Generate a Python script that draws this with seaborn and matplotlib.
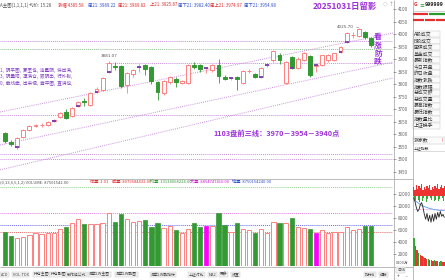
import numpy as np
import pandas as pd
import matplotlib
matplotlib.use("Agg")
import matplotlib.pyplot as plt
import seaborn as sns
from matplotlib.patches import Rectangle

sns.set_style("white")
plt.rcParams['font.family'] = ['Noto Sans CJK SC', 'DejaVu Sans']

# ---------------- data ----------------
open_ = [3605, 3568, 3549, 3589, 3617, 3635, 3636, 3637, 3653, 3669,
         3689, 3673, 3713, 3731, 3717, 3769, 3777, 3849, 3874, 3873,
         3797, 3841, 3868, 3877, 3869, 3808, 3765, 3808, 3821, 3806,
         3806, 3876, 3876, 3864, 3857, 3876, 3829, 3825, 3829, 3805,
         3851, 3841, 3829, 3876, 3897, 3917, 3805, 3909, 3865, 3897,
         3913, 3874, 3877, 3897, 3897, 3928, 3968, 3995, 3992, 4008,
         3984]
close_ = [3573, 3562, 3585, 3617, 3633, 3639, 3637, 3649, 3657, 3685,
          3665, 3705, 3729, 3727, 3765, 3781, 3825, 3885, 3870, 3793,
          3845, 3857, 3869, 3861, 3813, 3768, 3813, 3828, 3808, 3812,
          3877, 3868, 3860, 3865, 3876, 3833, 3821, 3826, 3821, 3853,
          3853, 3829, 3865, 3878, 3932, 3897, 3889, 3865, 3901, 3925,
          3837, 3877, 3916, 3916, 3924, 3948, 4004, 3997, 4020, 3988,
          3956]
high_ = [3610, 3578, 3588, 3620, 3636, 3642, 3645, 3652, 3662, 3688,
         3702, 3710, 3732, 3745, 3768, 3790, 3828, 3891, 3888, 3876,
         3850, 3860, 3880, 3880, 3872, 3812, 3815, 3832, 3830, 3818,
         3880, 3890, 3880, 3870, 3880, 3900, 3835, 3830, 3832, 3856,
         3862, 3845, 3868, 3885, 3936, 3925, 3892, 3912, 3910, 3930,
         3918, 3880, 3918, 3920, 3926, 3952, 4008, 4010, 4025.7, 4012,
         3990]
low_ = [3565, 3555, 3541, 3585, 3612, 3630, 3628, 3633, 3648, 3664,
        3660, 3668, 3708, 3713, 3712, 3765, 3772, 3845, 3858, 3785,
        3765, 3830, 3848, 3835, 3800, 3737, 3757, 3800, 3790, 3800,
        3800, 3860, 3850, 3845, 3850, 3805, 3815, 3815, 3777, 3800,
        3845, 3825, 3825, 3870, 3890, 3880, 3800, 3860, 3860, 3893,
        3830, 3850, 3872, 3890, 3892, 3925, 3965, 3985, 3988, 3980,
        3950]
volume = [5700, 5000, 4650, 4850, 5150, 5500, 5350, 5500, 5500, 6150,
          6500, 7150, 7850, 7000, 7000, 7000, 7150, 8850, 7350, 8650,
          7850, 7350, 7500, 7650, 6500, 7150, 6350, 6650, 6000, 5500,
          6150, 7150, 6500, 6650, 6650, 8850, 6850, 5650, 7150, 6150,
          6000, 5500, 6150, 5500, 7350, 7150, 7150, 8000, 6500, 6350,
          6150, 5500, 6000, 5500, 5650, 5650, 6500, 6000, 6150, 6650,
          6650]
magenta_vol_idx = [33, 51]
purple_idx = [2, 8, 12, 15, 17, 22, 33, 37, 42, 43, 47, 51, 55, 56]
purple_price = [3549, 3655, 3713, 3769, 3849, 3868, 3864, 3825, 3829, 3877, 3865, 3875, 3928, 3968]

price_ticks = [4100, 4050, 4000, 3950, 3900, 3850, 3800, 3750, 3700, 3650, 3600, 3550, 3500, 3450]
vol_ticks = [12000, 10000, 8000, 6000, 4000, 2000]

level_lines = [3972, 3940, 3884, 3677, 3521, 3501]
level_colors = ['#c98fdc', '#8fbf8f', '#c98fdc', '#c98fdc', '#c98fdc', '#c98fdc']
level_start = [-0.8, -0.8, 16.4, -0.8, -0.8, -0.8]
trend_x0 = [-0.82, -0.82, -0.82]
trend_y0 = [3689, 3557, 3458]
trend_x1 = [63.6, 63.6, 63.6]
trend_y1 = [4004, 3888, 3825]
vol_levels = [13170, 8830, 6830, 5670]
vol_level_colors = ['#8fcf8f', '#e07ae0', '#6a6af0', '#e06a6a']

header_texts = ["A主图(1,1,1,1) 均价: 15.28", "涨幅 4385.58", "周21: 3989.22", "周21: 3989.82",
                "上21: 3825.87", "周下21: 3982.40", "周上21: 3974.97", "周下21: 3954.98"]
header_x = [0, 58, 88, 118, 150, 178, 210, 244]
header_colors = ['#555555', '#e03030', '#3050d0', '#e03030', '#e03030', '#3050d0', '#e03030', '#3050d0']

vol_header = ["(0,13,6,6,1,2) VOLUME: 87501542.00", "倍量: 1.01", "成量: 8079684432.00",
              "均量: 13134068224.00", "大量: 8854747416.00", "地量: 8750154240.00"]
vol_header_x = [0, 90, 112, 150, 190, 232]
vol_header_colors = ['#555555', '#e03030', '#e03030', '#3a9a3a', '#d020d0', '#3050d0']

left_block = ["1,  阴平图,  夏至也,  连星阴,  快出满,",
              "3,  阴量阳,  漂满仓,  跟阴出,  行外射,",
              "0,  截线牵,  出来视,  竟平图,  直满也,"]

side_labels = ["A股成交", "B股成交", "国债成交", "基金成交", "最新指数", "今日开盘", "昨日收盘",
               "指数涨跌", "指数振幅", "总成交额", "总成交量", "最高指数", "最低指数", "指数量比", "上证换手"]

tabs = ["ACD", "VOL-TDX", "持仓主图", "持仓副图", "制作组公式", "潜学LW主图", "潜学LW副图",
        "潜学LW副指标", "上证对比", "MA2", "更多", "设置", "指标A", "模板"]
tabs_x = [0, 12, 33, 50, 66, 88, 115, 150, 188, 208, 219, 231, 364, 379]

mini_line = [3960, 3956, 3950, 3946, 3948, 3953, 3955, 3950, 3943, 3938, 3944, 3936,
             3942, 3935, 3943, 3936, 3944, 3938, 3945, 3940, 3946, 3941, 3943, 3940]
mini_avg = [3958, 3957, 3956, 3955, 3954, 3953, 3952, 3951.5, 3951, 3950.5, 3950, 3949.5,
            3949, 3948.7, 3948.4, 3948, 3947.8, 3947.6, 3947.4, 3947.2, 3947, 3947, 3947, 3947]
mini_up = [9, 6, 11, 7, 10, 8, 12, 6, 9, 7, 10, 8, 11, 6, 9, 7, 10, 8, 12, 7, 9, 11, 8, 10]
mini_dn = [3, 5, 2, 4, 6, 3, 5, 2, 4, 6, 3, 5, 2, 4, 3, 5, 4, 2, 5, 3, 4, 2, 5, 3]
mini_vol = [28, 20, 16, 13, 11, 10, 9, 8, 7, 7, 6, 6, 5, 6, 5, 5, 4, 5, 4, 4]
mini_vol_green = [0, 3, 6, 9, 13, 17]

# ---------------- layout helpers ----------------
W, H = 445, 280
fig = plt.figure(figsize=(W / 100, H / 100), dpi=100)
fig.patch.set_facecolor('white')


def R(x0, y0, x1, y1):
    return [x0 / W, 1 - y1 / H, (x1 - x0) / W, (y1 - y0) / H]


def T(x, y, s, **kw):
    kw.setdefault('va', 'center')
    kw.setdefault('ha', 'left')
    fig.text(x / W, 1 - y / H, s, **kw)


PINK = '#ff8080'
GREEN = '#339933'
PURPLE = '#7a3aa8'
VIOLET = '#9b30d9'
n = len(open_)
XL = (-0.82, 63.6)

# ---------------- main price axes ----------------
ax = fig.add_axes(R(0, 0, 393, 178))
for lv, c, st in zip(level_lines, level_colors, level_start):
    ax.hlines(lv, st, XL[1], colors=c, lw=0.7, linestyles=(0, (1, 1)), zorder=1)

trend_df = pd.DataFrame({
    'x': trend_x0 + trend_x1,
    'y': trend_y0 + trend_y1,
    'g': [0, 1, 2, 0, 1, 2]})
sns.lineplot(data=trend_df, x='x', y='y', units='g', estimator=None, ax=ax,
             color='#c98fdc', lw=0.7, linestyle=(0, (1, 1.2)), zorder=1)
ax.set_xlabel('')
ax.set_ylabel('')

bw = 0.64
for i in range(n):
    o, h, l, c = open_[i], high_[i], low_[i], close_[i]
    up = c >= o
    col = PINK if up else GREEN
    ax.vlines(i, l, h, colors=col, lw=0.6, zorder=2)
    b = min(o, c)
    hh = max(abs(c - o), 1.2)
    ax.add_patch(Rectangle((i - bw / 2, b), bw, hh,
                           facecolor='white' if up else col,
                           edgecolor=col, lw=0.7, zorder=3))

for i, p in zip(purple_idx, purple_price):
    ax.hlines(p, i - bw / 2, i + bw / 2, colors=PURPLE, lw=1.3, zorder=4)

ax.annotate('4025.70', xy=(58, high_[58]), xytext=(-4, 0.5), textcoords='offset points',
            ha='right', va='center', fontsize=3.0, color='#555555', family='DejaVu Sans',
            arrowprops=dict(arrowstyle='-', lw=0.4, color='#888888'))
ax.annotate('3881.07', xy=(17, high_[17]), xytext=(0, 2.5), textcoords='offset points',
            ha='center', va='bottom', fontsize=3.0, color='#555555', family='DejaVu Sans')

ax.set_xlim(*XL)
ax.set_ylim(3425.7, 4135.9)
for s in ax.spines.values():
    s.set_visible(False)
ax.set_xticks([])
ax.yaxis.tick_right()
ax.set_yticks(price_ticks)
ax.set_yticklabels([str(t) for t in price_ticks])
ax.tick_params(axis='y', right=True, length=2, width=0.4, pad=1.5, labelsize=3.3,
               colors='#666666')

# ---------------- volume axes ----------------
axv = fig.add_axes(R(0, 185, 393, 266))
for lv, c in zip(vol_levels, vol_level_colors):
    axv.axhline(lv, color=c, lw=0.7, ls=(0, (1, 1)), zorder=1)
for i in range(n):
    up = close_[i] >= open_[i]
    if i in magenta_vol_idx:
        axv.bar(i, volume[i], width=0.7, color='#ff00ff', edgecolor='#ff00ff', lw=0.5, zorder=3)
    elif up:
        axv.bar(i, volume[i], width=0.7, facecolor='white', edgecolor=PINK, lw=0.7, zorder=3)
    else:
        axv.bar(i, volume[i], width=0.7, color=GREEN, edgecolor=GREEN, lw=0.5, zorder=3)
axv.set_xlim(*XL)
axv.set_ylim(0, 13500)
for s in axv.spines.values():
    s.set_visible(False)
axv.set_xticks([])
axv.yaxis.tick_right()
axv.set_yticks(vol_ticks)
axv.set_yticklabels([str(t) for t in vol_ticks])
axv.tick_params(axis='y', right=True, length=2, width=0.4, pad=1.5, labelsize=3.3,
                colors='#666666')

# ---------------- frame lines ----------------
fl = fig.add_axes([0, 0, 1, 1], zorder=-1)
fl.set_xlim(0, W)
fl.set_ylim(H, 0)
fl.axis('off')
fl.vlines([393.5, 412.5], 0, H, colors='#b0b0b0', lw=0.6)
fl.hlines([179, 266.5], 0, 412.5, colors='#b0b0b0', lw=0.6)

# ---------------- texts ----------------
for s, x, c in zip(header_texts, header_x, header_colors):
    T(x, 5, s, fontsize=3.2, color=c)
T(383, 5, "◇ ↑", fontsize=3.5, color='#888888')
T(313, 7, "20251031日留影", fontsize=6, color=VIOLET, fontweight='bold')
for k, ch in enumerate("看涨防跌"):
    T(378, 37 + 8 * k, ch, fontsize=5.6, color=VIOLET, fontweight='bold', ha='center')
T(213, 133, "1103盘前三线：3970－3954－3940点", fontsize=5.2, color=VIOLET, fontweight='bold')
for k, s in enumerate(left_block):
    T(0, 70 + 6.5 * k, s, fontsize=3.3, color='#8040c0')
for s, x, c in zip(vol_header, vol_header_x, vol_header_colors):
    T(x, 182, s, fontsize=3.0, color=c)
for s, x in zip(tabs, tabs_x):
    T(x + 1, 274.5, s, fontsize=2.8, color='#444444',
      bbox=dict(boxstyle='square,pad=0.15', fc='#f2f2f2', ec='#c4c4c4', lw=0.3))
T(396, 263, "X100万", fontsize=2.8, color='#555555')
T(397, 270, "日线", fontsize=2.8, color='#444444',
  bbox=dict(boxstyle='square,pad=0.15', fc='#f2f2f2', ec='#c4c4c4', lw=0.3))
T(397, 276.5, "+", fontsize=3.5, color='#444444')
T(406, 276.5, "-", fontsize=3.5, color='#444444')

# ---------------- right info panel ----------------
T(414, 5, "G", fontsize=3.6, color='#e03030', fontweight='bold')
T(419, 5, "≡", fontsize=3.6, color='#339933')
T(425, 5, "999999", fontsize=3.8, color='#222222', fontweight='bold')
fl.hlines(10.5, 412.5, W, colors='#c0c0c0', lw=0.5)
fl.hlines(14, 413, 428, colors='#e03030', lw=1.6)
fl.hlines(14, 429, 445, colors='#2a9a2a', lw=1.6)
fl.hlines(20, 413, 424, colors='#e03030', lw=1.6)
fl.hlines(20, 425, 435, colors='#e03030', lw=1.6)
fl.hlines(20, 436, 445, colors='#e03030', lw=1.6)
for k, s in enumerate(side_labels):
    yy = 34 + 6.55 * k
    fl.add_patch(Rectangle((413, yy - 3), 27, 6, fc='#fbfbfb', ec='#c8c8c8', lw=0.35))
    T(413.7, yy, s, fontsize=3.5, color='#333333')
fl.add_patch(Rectangle((413, 137), 32, 6.5, fc='#fbfbfb', ec='#c8c8c8', lw=0.35))
T(413.7, 140, "涨家数", fontsize=3.5, color='#333333')
T(442, 140, "!", fontsize=3.8, color='#e03030')
T(414, 148, "上证指数", fontsize=2.8, color='#333333')
fl.hlines(151, 412.5, W, colors='#c0c0c0', lw=0.4)

axm = fig.add_axes(R(413, 182, 445, 234))
bx = np.arange(len(mini_up))
axm.bar(bx, mini_up, bottom=3962, width=0.8, color='#ee3333', lw=0)
axm.bar(bx + 0.45, [-d for d in mini_dn], bottom=3962, width=0.5, color='#33aa33', lw=0)
axm.axhline(3948, color='#e07ae0', lw=0.5, ls=(0, (1, 1)))
mini_df = pd.DataFrame({'t': np.arange(len(mini_line)), 'v': mini_line, 'a': mini_avg})
sns.lineplot(data=mini_df, x='t', y='a', ax=axm, color='#6aa8e8', lw=0.7)
sns.lineplot(data=mini_df, x='t', y='v', ax=axm, color='#222222', lw=0.6)
axm.set_xlabel('')
axm.set_ylabel('')
axm.set_xlim(-0.5, 23.5)
axm.set_ylim(3923, 3976)
axm.axis('off')

axmv = fig.add_axes(R(413, 236, 445, 266))
mv_cols = ['#33aa33' if k in mini_vol_green else '#ee3333' for k in range(len(mini_vol))]
axmv.bar(np.arange(len(mini_vol)), mini_vol, width=0.8, color=mv_cols, lw=0)
axmv.set_xlim(-0.6, len(mini_vol) - 0.4)
axmv.set_ylim(0, 30)
axmv.axis('off')

fig.savefig("out.png", dpi=100)
